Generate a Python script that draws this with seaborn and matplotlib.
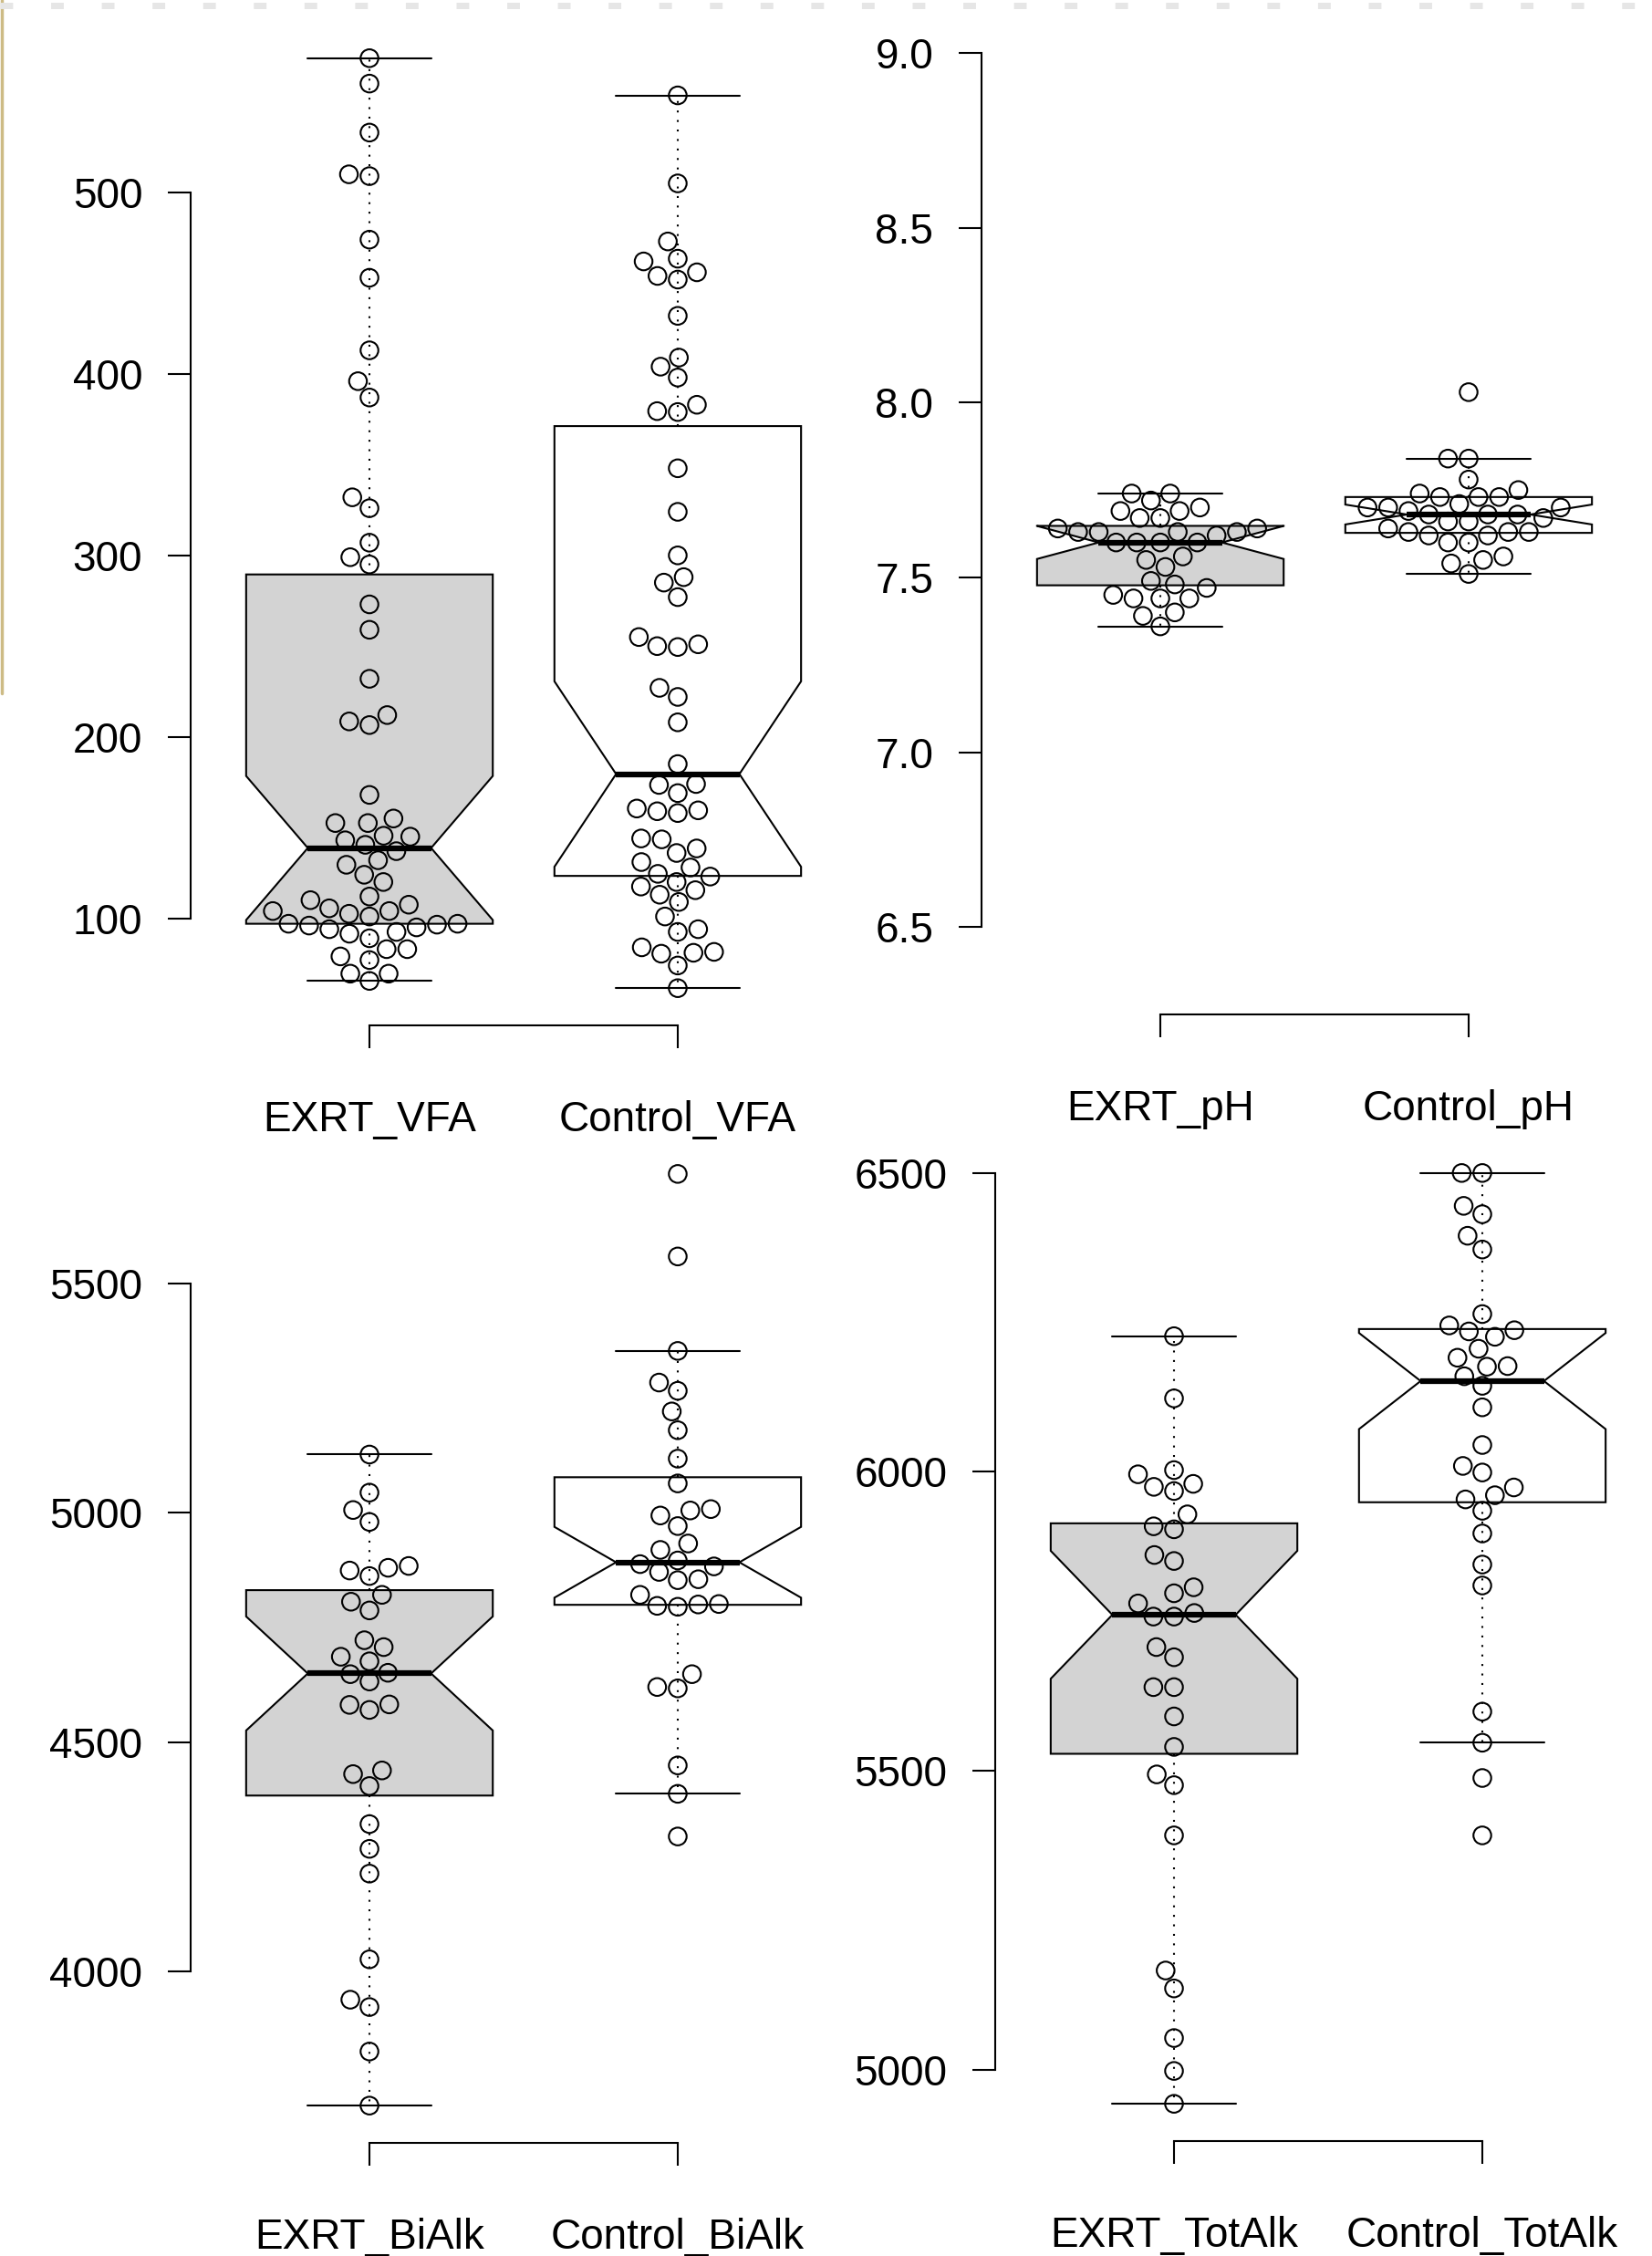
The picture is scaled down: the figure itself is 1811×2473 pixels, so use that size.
import numpy as np
import pandas as pd
import matplotlib
matplotlib.use("Agg")
import matplotlib.pyplot as plt
from matplotlib.lines import Line2D
import seaborn as sns

sns.set_style("white")
plt.rcParams["font.family"] = ["Liberation Sans", "DejaVu Sans"]

# values
vfa_exrt = [574, 560, 533, 510, 509, 474, 453, 413, 396, 387, 332, 326, 307, 299, 295,
            273, 259, 232, 212, 208.5, 206.5, 168, 155, 152.5, 152.5, 145.5, 145, 143, 140.5,
            137, 132, 129.5, 124, 120, 112, 107.5, 104, 104, 102.5, 105.5, 110, 101, 97, 96,
            94, 92.5, 89, 95, 96.5, 97, 91.5, 83, 83, 79, 77, 69.5, 69.5, 65.5]
vfa_control = [553.5, 505, 473, 463.5, 462, 456, 454, 452, 432, 409, 404, 398, 383, 379.5,
               379, 348, 324, 300, 288, 285, 277, 255, 251, 250, 249.5, 227, 222, 208, 185,
               174, 173.5, 169, 160.5, 159.5, 159, 158, 144, 143.5, 138.5, 136, 131, 128,
               124.5, 123, 120, 117.5, 115.5, 113, 109, 101, 94, 92.5, 84, 81.5, 81, 80.5,
               74, 61.5]
ph_exrt = [7.74, 7.72, 7.74, 7.70, 7.67, 7.67, 7.69, 7.69, 7.63, 7.63, 7.62, 7.63, 7.64,
           7.63, 7.64, 7.60, 7.60, 7.60, 7.60, 7.56, 7.55, 7.53, 7.48, 7.49, 7.47, 7.44,
           7.44, 7.44, 7.45, 7.40, 7.39, 7.36]
ph_control = [8.03, 7.84, 7.84, 7.78, 7.75, 7.73, 7.73, 7.73, 7.74, 7.71, 7.70, 7.69, 7.68,
              7.67, 7.66, 7.66, 7.68, 7.68, 7.70, 7.70, 7.63, 7.63, 7.62, 7.63, 7.64, 7.62,
              7.60, 7.60, 7.56, 7.55, 7.54, 7.51]
bialk_exrt = [5127, 5044, 5006, 4980, 4884, 4880, 4862, 4874, 4821, 4806, 4787, 4722, 4707,
              4686, 4676, 4651, 4648, 4632, 4582, 4581, 4570, 4438, 4430, 4404, 4321, 4267,
              4213, 4026, 3938, 3922, 3825, 3707]
bialk_control = [5739, 5559, 5353, 5284, 5266, 5221, 5180, 5118, 5064, 5008, 5005, 4994,
                 4971, 4933, 4919, 4896, 4888, 4883, 4871, 4853, 4855, 4821, 4800, 4795,
                 4797, 4801, 4648, 4617, 4620, 4449, 4387, 4294]
totalk_exrt = [6227, 6123, 6003, 5996, 5980, 5975, 5968, 5929, 5909, 5904, 5861, 5851, 5807,
               5797, 5780, 5764, 5758, 5758, 5707, 5690, 5640, 5640, 5591, 5540, 5494, 5476,
               5392, 5166, 5136, 5053, 4998, 4943]
totalk_control = [6500, 6500, 6445, 6431, 6395, 6372, 6264, 6245, 6235, 6226, 6237, 6206,
                  6191, 6177, 6176, 6160, 6144, 6108, 6045, 6010, 5999, 5974, 5961, 5954,
                  5935, 5897, 5845, 5810, 5599, 5547, 5488, 5392]

names_vfa = ["EXRT_VFA", "Control_VFA"]
names_ph = ["EXRT_pH", "Control_pH"]
names_bialk = ["EXRT_BiAlk", "Control_BiAlk"]
names_totalk = ["EXRT_TotAlk", "Control_TotAlk"]

yticks_vfa = [100, 200, 300, 400, 500]
yticks_ph = [6.5, 7.0, 7.5, 8.0, 8.5, 9.0]
yticks_bialk = [4000, 4500, 5000, 5500]
yticks_totalk = [5000, 5500, 6000, 6500]
ph_ylim = (6.25, 9.11)

fills = ["#D3D3D3", "white"]

W, H = 1811, 2473
fig = plt.figure(figsize=(W / 100, H / 100), dpi=100)


def add_ax(x0, x1, y_top, y_bot):
    # pixel box -> figure fraction
    return fig.add_axes([x0 / W, 1 - y_bot / H, (x1 - x0) / W, (y_bot - y_top) / H])


def draw_panel(ax, exrt, control, names, yticks, ylim=None, fmt="{:.0f}"):
    df = pd.DataFrame({
        "group": [names[0]] * len(exrt) + [names[1]] * len(control),
        "value": list(exrt) + list(control),
    })
    sns.boxplot(data=df, x="group", y="value", hue="group", order=names, hue_order=names,
                palette=dict(zip(names, fills)), saturation=1, width=0.8, whis=1.55,
                linecolor="black", linewidth=1.5, notch=True, showfliers=False,
                whiskerprops={"linestyle": (0, (1, 4))}, medianprops={"linewidth": 4.5},
                legend=False, ax=ax)
    sns.swarmplot(data=df, x="group", y="value", order=names, color="black",
                  size=14, linewidth=1.5, ax=ax)
    for coll in ax.collections:
        coll.set_facecolor("none")
        coll.set_edgecolor("black")
        coll.set_linewidth(1.5)

    if ylim is None:
        lo, hi = min(df["value"]), max(df["value"])
        pad = 0.04 * (hi - lo)
        ylim = (lo - pad, hi + pad)
    ax.set_ylim(*ylim)
    ax.set_xlim(-0.58, 1.58)
    ax.set_yticks(yticks)
    ax.set_yticklabels([fmt.format(t) for t in yticks])
    ax.set_xticks([0, 1])
    ax.set_xticklabels(names)
    ax.set_xlabel("")
    ax.set_ylabel("")
    ax.spines[["top", "right"]].set_visible(False)
    ax.spines["left"].set_bounds(yticks[0], yticks[-1])
    ax.spines["bottom"].set_bounds(0, 1)
    for sp in ax.spines.values():
        sp.set_linewidth(1.5)
        sp.set_color("black")
    ax.tick_params(axis="both", direction="out", length=18, width=1.5,
                   labelsize=33, colors="black", bottom=True, left=True)
    ax.tick_params(axis="y", pad=20)
    ax.tick_params(axis="x", pad=41)
    ax.patch.set_alpha(0)


ax1 = add_ax(209, 939, 23, 1124)
draw_panel(ax1, vfa_exrt, vfa_control, names_vfa, yticks_vfa)

ax2 = add_ax(1076, 1806, 16, 1112)
draw_panel(ax2, ph_exrt, ph_control, names_ph, yticks_ph, ylim=ph_ylim, fmt="{:.1f}")

ax3 = add_ax(209, 939, 1246, 2349)
draw_panel(ax3, bialk_exrt, bialk_control, names_bialk, yticks_bialk)

ax4 = add_ax(1091, 1821, 1245, 2347)
draw_panel(ax4, totalk_exrt, totalk_control, names_totalk, yticks_totalk)

# screenshot edge decorations
fig.add_artist(Line2D([0.0009, 0.0009], [1 - 760 / H, 1], transform=fig.transFigure,
                      color="#CDBB85", lw=2.5))
fig.add_artist(Line2D([0, 1], [1 - 6 / H, 1 - 6 / H], transform=fig.transFigure,
                      color="#e6e6e6", lw=5, linestyle=(0, (2, 6))))

fig.savefig("out.png", dpi=100)
